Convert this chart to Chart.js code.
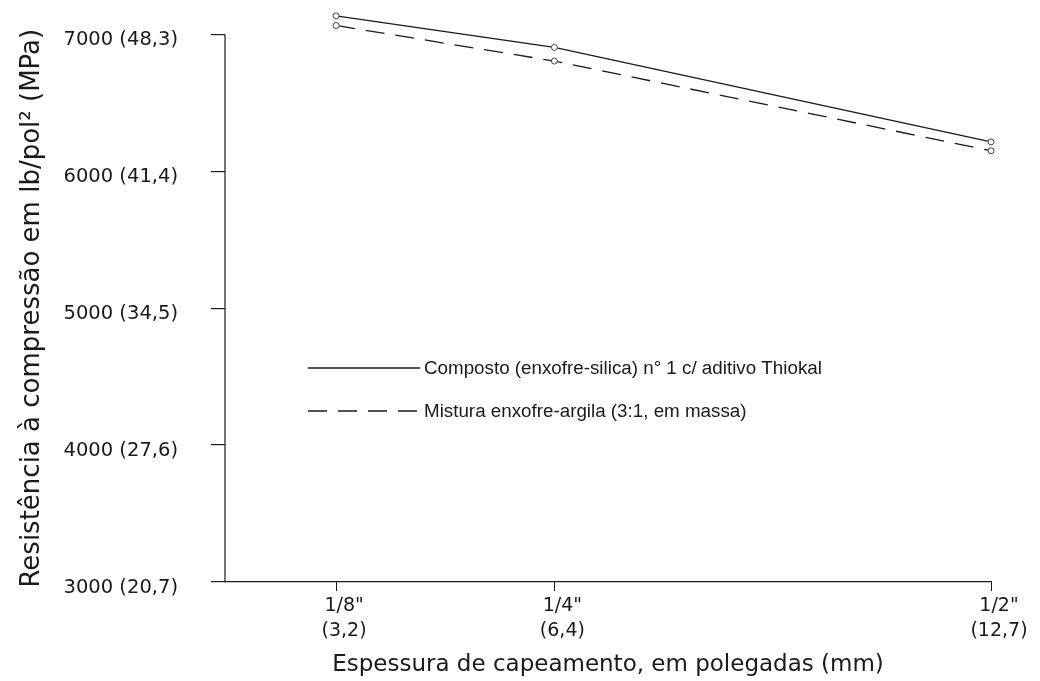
<!DOCTYPE html>
<html lang="pt">
<head>
<meta charset="utf-8">
<title>Resistência à compressão x espessura de capeamento</title>
<script src="https://cdn.jsdelivr.net/npm/chart.js@4/dist/chart.umd.min.js"></script>
<style>
    html, body { margin: 0; padding: 0; background: #fff; }
    #wrap { width: 1040px; height: 681px; }
</style>
</head>
<body>
<div id="wrap"><canvas id="graficoCapeamento" width="1040" height="681"></canvas></div>
<script>
// Dados
const espessuraPol = [0.125, 0.25, 0.5];
const espessuraLabels = [['1/8"', '(3,2)'], ['1/4"', '(6,4)'], ['1/2"', '(12,7)']];
const compostoValores = [7135, 6905, 6215];
const misturaValores = [7065, 6805, 6150];
const yTicks = [3000, 4000, 5000, 6000, 7000];
const yTickLabels = ['3000 (20,7)', '4000 (27,6)', '5000 (34,5)', '6000 (41,4)', '7000 (48,3)'];
const tituloY = 'Resistência à compressão em lb/pol² (MPa)';
const tituloX = 'Espessura de capeamento, em polegadas (mm)';
const legendaTextos = [
    'Composto (enxofre-silica) n° 1 c/ aditivo Thiokal',
    'Mistura enxofre-argila (3:1, em massa)'
];

const COR = '#1a1a1a';
const FONTE_EIXOS = "'DejaVu Sans', sans-serif";
const FONTE_LEGENDA = "'Liberation Sans', Arial, sans-serif";
const TRACO = [19, 11];

function toPoints(valores) {
    return espessuraPol.map((x, i) => ({ x: x, y: valores[i] }));
}

// Eixo Y só vai de 3000 até 7000 (os pontos passam acima), com o título centrado nele
const eixoY = {
    id: 'eixoY',
    afterDraw(chart) {
        const y = chart.scales.y;
        const ctx = chart.ctx;
        const base = y.getPixelForValue(yTicks[0]);
        const topo = y.getPixelForValue(yTicks[yTicks.length - 1]);
        ctx.save();
        ctx.strokeStyle = COR;
        ctx.lineWidth = 1.2;
        ctx.beginPath();
        ctx.moveTo(y.right, base);
        ctx.lineTo(y.right, topo);
        ctx.stroke();

        ctx.translate(32, (base + topo) / 2);
        ctx.rotate(-Math.PI / 2);
        ctx.fillStyle = COR;
        ctx.font = '26px ' + FONTE_EIXOS;
        ctx.textAlign = 'center';
        ctx.textBaseline = 'middle';
        ctx.fillText(tituloY, 0, 0);
        ctx.restore();
    }
};

// Legenda desenhada dentro da área do gráfico
const legendaInterna = {
    id: 'legendaInterna',
    afterDraw(chart) {
        const ctx = chart.ctx;
        const itens = [
            { texto: legendaTextos[0], dash: [], y: 368 },
            { texto: legendaTextos[1], dash: TRACO, y: 411 }
        ];
        ctx.save();
        ctx.strokeStyle = COR;
        ctx.lineWidth = 1.3;
        ctx.fillStyle = COR;
        ctx.font = '18.8px ' + FONTE_LEGENDA;
        ctx.textBaseline = 'middle';
        itens.forEach(item => {
            ctx.setLineDash(item.dash);
            ctx.beginPath();
            ctx.moveTo(308, item.y);
            ctx.lineTo(420, item.y);
            ctx.stroke();
            ctx.setLineDash([]);
            ctx.fillText(item.texto, 424, item.y + 1);
        });
        ctx.restore();
    }
};

const dsBase = {
    borderColor: COR,
    borderWidth: 1.3,
    pointRadius: 3,
    pointBorderWidth: 1,
    pointBorderColor: '#444',
    pointBackgroundColor: '#fff',
    tension: 0,
    fill: false
};

const ctx = document.getElementById('graficoCapeamento');

new Chart(ctx, {
    type: 'line',
    data: {
        datasets: [
            { ...dsBase, label: legendaTextos[0], data: toPoints(compostoValores) },
            { ...dsBase, label: legendaTextos[1], data: toPoints(misturaValores), borderDash: TRACO }
        ]
    },
    options: {
        responsive: false,
        animation: false,
        clip: false,
        layout: { padding: { left: 10, right: 49, top: 7, bottom: 2 } },
        plugins: {
            legend: { display: false },
            tooltip: { enabled: false }
        },
        scales: {
            x: {
                type: 'linear',
                min: 0.0614,
                max: 0.5,
                afterBuildTicks: (scale) => {
                    scale.ticks = espessuraPol.map(v => ({ value: v }));
                },
                afterFit: (scale) => {
                    scale.height = 97;
                    scale.paddingLeft = 0;
                    scale.paddingRight = 0;
                },
                ticks: {
                    color: COR,
                    font: { family: FONTE_EIXOS, size: 19, lineHeight: 1.35 },
                    padding: 2,
                    labelOffset: 8,
                    maxRotation: 0,
                    autoSkip: false,
                    callback: (value) => {
                        const i = espessuraPol.indexOf(value);
                        return i >= 0 ? espessuraLabels[i] : '';
                    }
                },
                grid: {
                    drawOnChartArea: false,
                    tickLength: 9,
                    color: COR
                },
                border: { display: true, color: COR, width: 1.2 },
                title: {
                    display: true,
                    text: tituloX,
                    color: COR,
                    font: { family: FONTE_EIXOS, size: 23 },
                    padding: { top: 2, bottom: 0 }
                }
            },
            y: {
                min: 3000,
                max: 7200,
                afterBuildTicks: (scale) => {
                    scale.ticks = yTicks.map(v => ({ value: v }));
                },
                afterFit: (scale) => {
                    scale.width = 215;
                    scale.paddingTop = 0;
                    scale.paddingBottom = 0;
                },
                ticks: {
                    color: COR,
                    font: { family: FONTE_EIXOS, size: 19.5 },
                    padding: 33,
                    labelOffset: 6,
                    callback: (value) => {
                        const i = yTicks.indexOf(value);
                        return i >= 0 ? yTickLabels[i] : '';
                    }
                },
                grid: {
                    drawOnChartArea: false,
                    tickLength: 14,
                    color: COR,
                    lineWidth: 1.2
                },
                border: { display: false },
                title: { display: false }
            }
        }
    },
    plugins: [eixoY, legendaInterna]
});
</script>
</body>
</html>
